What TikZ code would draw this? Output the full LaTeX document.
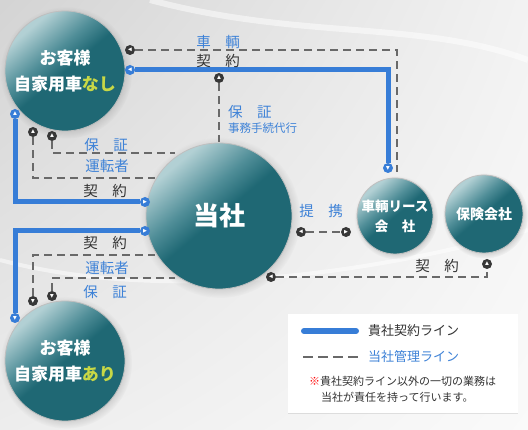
\documentclass[tikz,border=0pt]{standalone}
\usepackage{fontspec}
\setmainfont{Noto Sans CJK JP}
\newfontfamily\symf{DejaVu Sans}
\usetikzlibrary{shadows,shadings,calc}
\definecolor{tealD}{RGB}{31,104,116}
\definecolor{tealM}{RGB}{80,142,152}
\definecolor{tealL}{RGB}{178,208,212}
\definecolor{lineblue}{RGB}{55,125,215}
\definecolor{txtblue}{RGB}{62,130,215}
\definecolor{dashgray}{RGB}{105,105,105}
\definecolor{mkgray}{RGB}{55,55,55}
\definecolor{ygreen}{RGB}{200,216,70}
\definecolor{txtdark}{RGB}{50,50,50}
\pgfdeclareverticalshading{ballhl}{100bp}{color(0bp)=(tealD); color(50bp)=(tealD); color(59bp)=(tealM); color(73bp)=(tealL); color(100bp)=(tealL)}
\tikzset{
  ball/.style={circle, shade, shading=ballhl, shading angle=40, draw=black!25, line width=0.8pt,
    circular drop shadow={shadow xshift=1pt, shadow yshift=-1.5pt, opacity=0.3},
    text=white, align=center, inner sep=0pt},
  custtext/.style={font=\bfseries\fontsize{17}{26}\selectfont},
  mk/.style={circle, inner sep=0pt, minimum size=10pt, text=white, font=\symf\fontsize{5}{5}\selectfont},
  mkb/.style={mk, fill=lineblue},
  mkg/.style={mk, fill=mkgray},
  bl/.style={draw=lineblue, line width=5pt},
  dl/.style={draw=dashgray, line width=2.3pt, dash pattern=on 8pt off 5pt},
  lblue/.style={text=txtblue, font=\fontsize{14.5}{16}\selectfont, inner sep=0pt},
  ldark/.style={text=txtdark, font=\fontsize{14.5}{16}\selectfont, inner sep=0pt},
}
\begin{document}
\begin{tikzpicture}[x=1pt,y=-1pt]
\useasboundingbox (0,0) rectangle (528,430);
\shade[upper left=black!17, upper right=black!5, lower left=black!7, lower right=black!2] (0,0) rectangle (528,430);
\draw[white, line width=6pt, opacity=0.5] (150,0) .. controls (300,40) and (420,20) .. (528,60);
\draw[white, line width=4pt, opacity=0.5] (0,260) .. controls (150,300) and (350,280) .. (528,230);

% main circles
\node[ball, minimum size=120pt, custtext] (nashi) at (65,71) {お客様\\自家用車{\color{ygreen}なし}};
\node[ball, minimum size=146pt, font=\bfseries\fontsize{26}{28}\selectfont] (tosha) at (219,216) {当社};
\node[ball, minimum size=120pt, custtext] (ari) at (65,361) {お客様\\自家用車{\color{ygreen}あり}};
\node[ball, minimum size=76pt, font=\bfseries\fontsize{13.5}{20}\selectfont] (lease) at (395,216) {車輌リース\\会　社};
\node[ball, minimum size=78pt, font=\bfseries\fontsize{14}{16}\selectfont] (hoken) at (484,214) {保険会社};

% free ends
\coordinate (eD) at (397,172);
\coordinate (eE) at (219,142);
\coordinate (eF) at (175,153);
\coordinate (eG) at (155,178);
\coordinate (eH) at (155,255);
\coordinate (eI) at (175,278);

% markers
\node[mkb, rotate=180] (mA1) at (130,70) {▶};
\node[mkb, rotate=-90] (mA2) at (388,168) {▶};
\node[mkb, rotate=90] (mB1) at (15,114) {▶};
\node[mkb] (mB2) at (145,202) {▶};
\node[mkb] (mC1) at (145,231) {▶};
\node[mkb, rotate=-90] (mC2) at (15,318) {▶};
\node[mkg, rotate=180] (mD1) at (130,50) {▶};
\node[mkg, rotate=90] (mE) at (219,78) {▶};
\node[mkg, rotate=90] (mF) at (52,136) {▶};
\node[mkg, rotate=90] (mG) at (33,132) {▶};
\node[mkg, rotate=-90] (mH) at (33,301) {▶};
\node[mkg, rotate=-90] (mI) at (52,296) {▶};
\node[mkg, rotate=180] (mJ1) at (301,232) {▶};
\node[mkg] (mJ2) at (346,232) {▶};
\node[mkg, rotate=180] (mK1) at (271,277) {▶};
\node[mkg, rotate=90] (mK2) at (487,264) {▶};

% connectors
\draw[dl] (mD1) -| (eD);
\draw[dl] (mE) -- (eE);
\draw[dl] (mF) |- (eF);
\draw[dl] (mG) |- (eG);
\draw[dl] (mH) |- (eH);
\draw[dl] (mI) |- (eI);
\draw[dl] (mJ1) -- (mJ2);
\draw[dl] (mK1) -| (mK2);
\draw[bl] (mA1) -| (mA2);
\draw[bl] (mB1) |- (mB2);
\draw[bl] (mC1) -| (mC2);

% labels
\node[lblue] (l1) at (218,42) {車　輌};
\node[ldark] (l2) at (218,61) {契　約};
\node[lblue, anchor=west] (l3) at (228,112) {保　証};
\node[lblue, anchor=west, font=\fontsize{11.5}{13}\selectfont] (l4) at (228,128) {事務手続代行};
\node[lblue] (l5) at (106,145) {保　証};
\node[lblue] (l6) at (107,166) {運転者};
\node[ldark] (l7) at (105,191) {契　約};
\node[ldark] (l8) at (105,243) {契　約};
\node[lblue] (l9) at (107,268) {運転者};
\node[lblue] (l10) at (105,292) {保　証};
\node[lblue] (l11) at (321,211) {提　携};
\node[ldark] (l12) at (437,266) {契　約};

% legend
\node[fill=white, minimum width=230pt, minimum height=99pt, inner sep=0pt,
  drop shadow={shadow xshift=0pt, shadow yshift=-1pt, opacity=0.2}] (legend) at (403,363.5) {};
\coordinate (lgA1) at (304,331);
\coordinate (lgA2) at (356,331);
\coordinate (lgB1) at (303,357);
\coordinate (lgB2) at (358,357);
\draw[draw=lineblue, line width=6pt, line cap=round] (lgA1) -- (lgA2);
\draw[draw=dashgray, line width=2.5pt, dash pattern=on 10pt off 5pt] (lgB1) -- (lgB2);
\node[anchor=west, text=txtdark, font=\fontsize{13}{15}\selectfont, inner sep=0pt] (lg1) at (368,331) {貴社契約ライン};
\node[anchor=west, text=txtblue, font=\fontsize{13}{15}\selectfont, inner sep=0pt] (lg2) at (368,357) {当社管理ライン};
\node[anchor=west, text=txtdark, font=\fontsize{11}{13}\selectfont, inner sep=0pt] (lg3) at (309,381) {{\color{red}※}貴社契約ライン以外の一切の業務は};
\node[anchor=west, text=txtdark, font=\fontsize{11}{13}\selectfont, inner sep=0pt] (lg4) at (321,397) {当社が責任を持って行います。};
\end{tikzpicture}
\end{document}
